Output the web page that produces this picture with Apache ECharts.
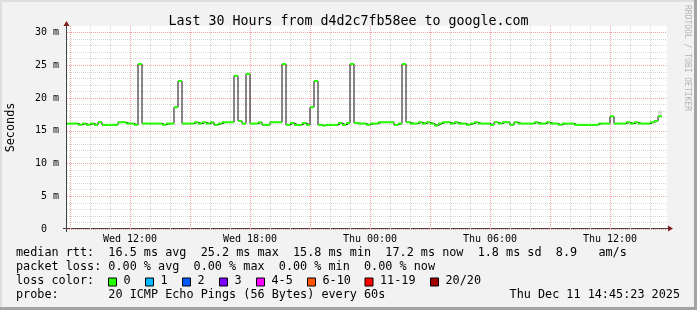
<!DOCTYPE html>
<html>
<head>
<meta charset="utf-8">
<script src="https://cdn.jsdelivr.net/npm/echarts@6/dist/echarts.min.js"></script>
<style>
html,body{margin:0;padding:0;background:#f2f2f2;}
#chart{width:697px;height:310px;}
</style>
</head>
<body>
<div id="chart"></div>
<script>
// ---- data (12-minute buckets, median RTT in ms) ----
const firstBucketHour = 8.8;   // Wed 08:48
const bucketHours = 0.2;       // 12 minutes
const medianRtt = [
  16.1,16.1,16.1,15.9,16.1,15.9,16.1,15.9,16.3,15.9,
  15.9,15.9,15.9,16.3,16.3,16.1,16.1,15.9,25.2,16.1,
  16.1,16.1,16.1,16.1,15.9,16.1,16.1,18.6,22.6,16.1,
  16.1,16.1,16.3,16.1,16.3,16.1,16.3,15.9,16.1,16.3,
  16.3,16.3,23.4,16.5,16.1,23.7,16.1,16.1,16.3,15.9,
  15.9,16.3,16.3,16.3,25.2,15.9,16.2,15.9,15.9,16.2,
  15.9,18.6,22.6,15.9,15.8,15.9,15.9,15.9,16.2,15.9,
  16.2,25.2,16.2,16.1,16.1,15.9,16.1,16.1,16.3,16.3,
  16.3,16.3,15.9,16.1,25.2,16.3,16.1,16.1,16.3,16.1,
  16.3,16.1,15.8,16.1,16.3,16.3,16.1,16.3,16.1,16.1,
  15.9,16.1,16.3,16.1,16.1,16.1,15.9,16.3,16.1,16.3,
  16.3,15.9,16.3,16.1,16.1,16.1,16.1,16.3,16.1,16.1,
  16.3,16.1,16.1,15.9,16.1,16.1,16.1,15.9,15.9,15.9,
  15.9,15.9,15.9,16.1,16.1,16.1,17.2,16.1,16.1,16.1,
  16.3,16.1,16.3,16.1,16.1,16.1,16.3,16.5,17.2
];
const smokeBucket = [148];
const smokeLow = [17.3];
const smokeHigh = [18.1];

const hourTicks = [9,10,11,12,13,14,15,16,17,18,19,20,21,22,23,24,25,26,27,28,29,30,31,32,33,34,35,36,37,38];
const labelHours = [12,18,24,30,36];
const labelTexts = ['Wed 12:00','Wed 18:00','Thu 00:00','Thu 06:00','Thu 12:00'];
const yMajor = [0,5,10,15,20,25,30];
const yLabels = ['0','5 m','10 m','15 m','20 m','25 m','30 m'];

const lossColors = ['#26ff00','#00b8ff','#0059ff','#7e00ff','#ff00ff','#ff5500','#ff0000','#a10000'];
const lossLabels = ['0','1','2','3','4-5','6-10','11-19','20/20'];

const statLine1 = 'median rtt:  16.5 ms avg  25.2 ms max  15.8 ms min  17.2 ms now  1.8 ms sd  8.9   am/s';
const statLine2 = 'packet loss: 0.00 % avg  0.00 % max  0.00 % min  0.00 % now';
const probeLine = 'probe:       20 ICMP Echo Pings (56 Bytes) every 60s';
const stampText = 'Thu Dec 11 14:45:23 2025';
const titleText = 'Last 30 Hours from d4d2c7fb58ee to google.com';

// ---- build ----
const MONO = 'DejaVu Sans Mono';
const xMin = 8.85, xMax = 38.85;
const segData = medianRtt.map((v, i) => [firstBucketHour + i * bucketHours, firstBucketHour + (i + 1) * bucketHours, v]);
const stepData = medianRtt.map((v, i) => [firstBucketHour + i * bucketHours, v]);
stepData.push([firstBucketHour + medianRtt.length * bucketHours, medianRtt[medianRtt.length - 1]]);
const smokeData = smokeBucket.map((k, i) => [firstBucketHour + k * bucketHours, firstBucketHour + (k + 1) * bucketHours, smokeLow[i], smokeHigh[i]]);

const ySplitColors = [];
for (let i = 0; i <= 31; i++) ySplitColors.push(i === 31 ? 'rgba(0,0,0,0)' : (i % 5 === 0 ? '#f2a0a0' : '#d6d6d6'));

const chart = echarts.init(document.getElementById('chart'), null, {renderer: 'canvas'});

const FONT = '11.8px "' + MONO + '"';
const legendGraphics = [];
const legendY = 254.3, lineGap = 13.8;
legendGraphics.push({type:'text', left:16, top: legendY - 7, style:{text: statLine1, font: FONT, fill:'#000'}});
legendGraphics.push({type:'text', left:16, top: legendY + lineGap - 7, style:{text: statLine2, font: FONT, fill:'#000'}});
legendGraphics.push({type:'text', left:16, top: legendY + 2*lineGap - 7, style:{text: 'loss color:', font: FONT, fill:'#000'}});
legendGraphics.push({type:'text', left:16, top: legendY + 3*lineGap - 7, style:{text: probeLine, font: FONT, fill:'#000'}});
legendGraphics.push({type:'text', right:17, top: legendY + 3*lineGap - 7, style:{text: stampText, font: FONT, fill:'#000'}});
const boxX = [108.5,145.5,182.5,219.5,256.5,307.5,365,430.5];
lossColors.forEach((c, i) => {
  legendGraphics.push({type:'rect', shape:{x: boxX[i], y: 278, width: 8, height: 8}, style:{fill: c, stroke:'#000', lineWidth: 1}});
  legendGraphics.push({type:'text', x: boxX[i] + 15, y: legendY + 2*lineGap - 7, style:{text: lossLabels[i], font: FONT, fill:'#000'}});
});

const option = {
  backgroundColor: '#f2f2f2',
  animation: false,
  title: {
    text: titleText, left: 'center', top: 10,
    textStyle: {fontFamily: MONO, fontSize: 13.3, fontWeight: 'normal', color: '#000'}
  },
  grid: {left: 67, right: 30, top: 26, bottom: 81, show: true, backgroundColor: '#ffffff', borderWidth: 0,
         containLabel: false, outerBoundsMode: 'none'},
  xAxis: {
    type: 'value', min: xMin, max: xMax,
    axisLine: {show: false},
    axisTick: {show: false, customValues: hourTicks},
    axisLabel: {
      customValues: labelHours,
      formatter: v => labelTexts[labelHours.indexOf(Math.round(v))] || '',
      fontFamily: MONO, fontSize: 10, color: '#000', margin: 5
    },
    splitLine: {show: true, lineStyle: {color: ['#f2a0a0', '#d6d6d6', '#d6d6d6'], type: [1, 1], width: 1}}
  },
  yAxis: {
    type: 'value', min: 0, max: 31, interval: 1,
    name: 'Seconds', nameLocation: 'middle', nameGap: 50, nameRotate: 90,
    nameTextStyle: {fontFamily: MONO, fontSize: 11.8, color: '#000'},
    axisLine: {show: false},
    axisTick: {show: false},
    axisLabel: {
      formatter: v => { const i = yMajor.indexOf(v); return i < 0 ? '' : (yLabels[i] === '0' ? '0\u00a0\u00a0' : yLabels[i]); },
      fontFamily: MONO, fontSize: 10, color: '#000', margin: 8
    },
    splitLine: {show: true, lineStyle: {color: ySplitColors, type: [1, 1], width: 1}}
  },
  series: [
    {
      type: 'custom', name: 'smoke', data: smokeData, encode: {x: [0, 1], y: [2, 3]}, z: 2,
      renderItem: (params, api) => {
        const p0 = api.coord([api.value(0), api.value(3)]);
        const p1 = api.coord([api.value(1), api.value(2)]);
        return {type: 'rect', shape: {x: p0[0], y: p0[1], width: p1[0] - p0[0], height: p1[1] - p0[1]}, style: {fill: '#dcdcdc'}};
      }
    },
    {
      type: 'line', name: 'median', data: stepData, step: 'end', symbol: 'none', z: 3,
      lineStyle: {color: '#111', width: 1}, clip: true
    },
    {
      type: 'custom', name: 'loss0', data: segData, encode: {x: [0, 1], y: 2}, z: 4,
      renderItem: (params, api) => {
        const a = Math.max(api.value(0), xMin);
        const p0 = api.coord([a, api.value(2)]);
        const p1 = api.coord([api.value(1), api.value(2)]);
        return {type: 'line', shape: {x1: p0[0], y1: p0[1], x2: p1[0], y2: p1[1]}, style: {stroke: '#26ff00', lineWidth: 2}};
      }
    }
  ],
  graphic: [
    // frame
    {type: 'rect', shape: {x: 0, y: 0, width: 697, height: 2}, style: {fill: '#dedede'}, silent: true},
    {type: 'rect', shape: {x: 0, y: 0, width: 2, height: 310}, style: {fill: '#dedede'}, silent: true},
    {type: 'rect', shape: {x: 0, y: 307, width: 697, height: 3}, style: {fill: '#a3a3a3'}, silent: true},
    {type: 'rect', shape: {x: 694, y: 0, width: 3, height: 310}, style: {fill: '#a3a3a3'}, silent: true},
    // axis lines and arrows
    {type: 'line', shape: {x1: 66.5, y1: 22, x2: 66.5, y2: 232}, style: {stroke: '#444', lineWidth: 1}},
    {type: 'line', shape: {x1: 63, y1: 228.5, x2: 672, y2: 228.5}, style: {stroke: '#444', lineWidth: 1}},
    {type: 'polygon', shape: {points: [[66.5, 21], [63.5, 26], [69.5, 26]]}, style: {fill: '#7f1f1f'}},
    {type: 'polygon', shape: {points: [[673, 228.5], [668, 225.5], [668, 231.5]]}, style: {fill: '#7f1f1f'}},
    // watermark
    {type: 'text', x: 687, y: 58, rotation: -Math.PI / 2,
     style: {text: 'RRDTOOL / TOBI OETIKER', font: '8px "' + MONO + '"', fill: '#b4b4b4', align: 'center', verticalAlign: 'middle'}}
  ].concat(legendGraphics)
};
chart.setOption(option);
</script>
</body>
</html>
